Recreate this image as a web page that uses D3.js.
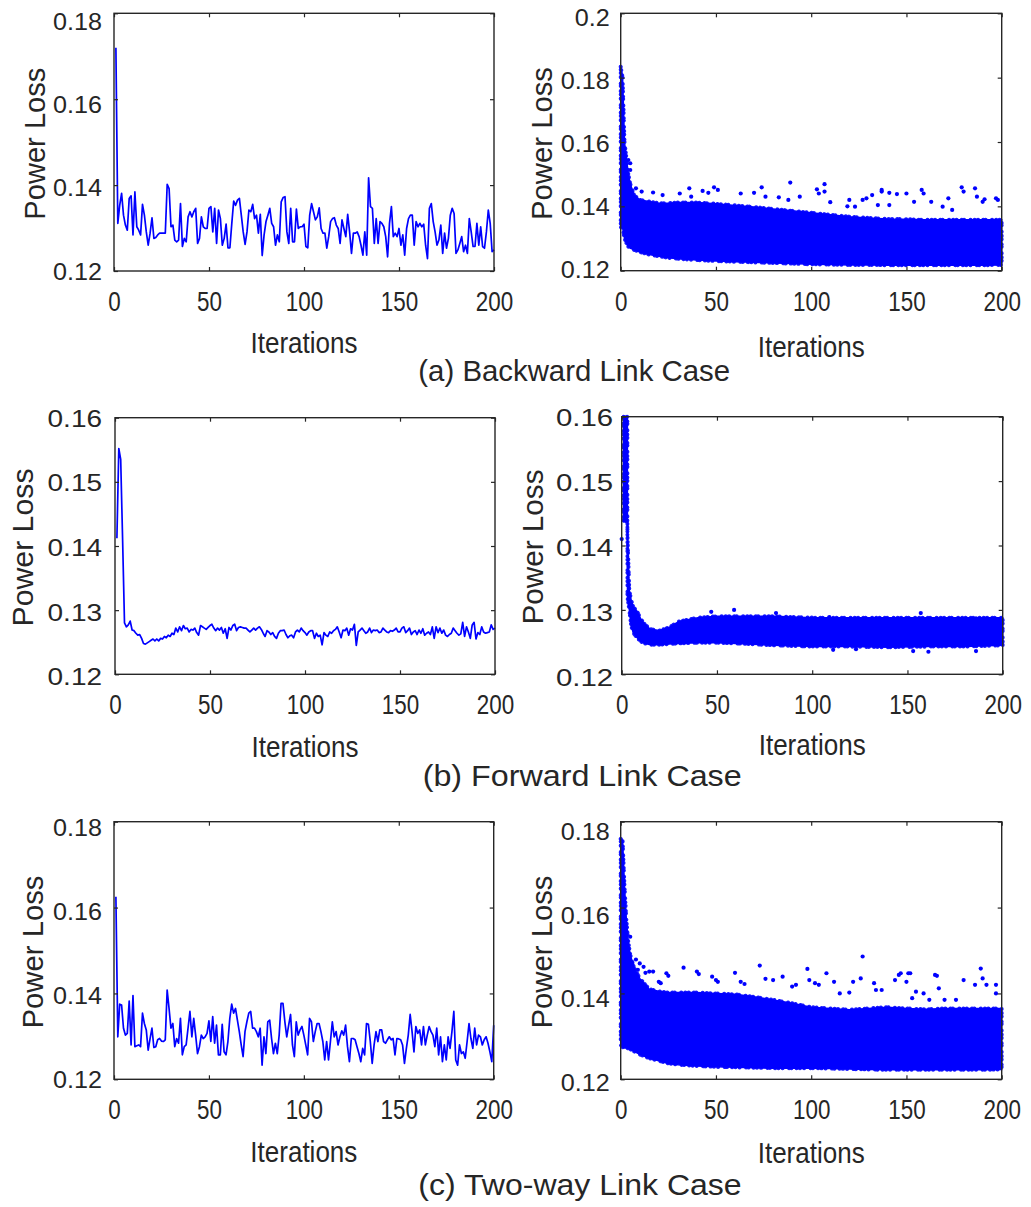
<!DOCTYPE html>
<html>
<head>
<meta charset="utf-8">
<script src="https://cdn.jsdelivr.net/npm/d3@7"></script>
<style>
  body { margin: 0; background: #fff; }
  svg { display: block; }
  text { font-family: "Liberation Sans", Arial, sans-serif; fill: #262626; }
</style>
</head>
<body>
<div id="chart"></div>
<script>
// ---- data ----
const iterations = d3.range(1, 201);
const xTicks = [0, 50, 100, 150, 200];
const yTicksA = [0.12, 0.14, 0.16, 0.18];
const yTicksAR = [0.12, 0.14, 0.16, 0.18, 0.2];
const yTicksB = [0.12, 0.13, 0.14, 0.15, 0.16];
const yTicksC = [0.12, 0.14, 0.16, 0.18];
const captions = ["(a) Backward Link Case", "(b) Forward Link Case", "(c) Two-way Link Case"];

// best power loss per iteration (left column)
const backwardLoss = [
  0.1720, 0.1311, 0.1353, 0.1381, 0.1330, 0.1307, 0.1295, 0.1369, 0.1375, 0.1284,
  0.1384, 0.1303, 0.1295, 0.1284, 0.1355, 0.1330, 0.1291, 0.1260, 0.1288, 0.1324,
  0.1276, 0.1278, 0.1284, 0.1288, 0.1288, 0.1288, 0.1288, 0.1402, 0.1392, 0.1303,
  0.1307, 0.1272, 0.1268, 0.1272, 0.1357, 0.1257, 0.1276, 0.1268, 0.1326, 0.1338,
  0.1326, 0.1338, 0.1346, 0.1264, 0.1276, 0.1326, 0.1303, 0.1299, 0.1299, 0.1346,
  0.1350, 0.1291, 0.1346, 0.1264, 0.1342, 0.1322, 0.1260, 0.1276, 0.1309, 0.1254,
  0.1254, 0.1311, 0.1363, 0.1353, 0.1365, 0.1369, 0.1330, 0.1291, 0.1262, 0.1291,
  0.1342, 0.1338, 0.1355, 0.1322, 0.1330, 0.1288, 0.1332, 0.1236, 0.1284, 0.1315,
  0.1330, 0.1346, 0.1311, 0.1303, 0.1260, 0.1284, 0.1268, 0.1361, 0.1371, 0.1373,
  0.1291, 0.1264, 0.1346, 0.1268, 0.1268, 0.1344, 0.1299, 0.1303, 0.1303, 0.1309,
  0.1257, 0.1254, 0.1330, 0.1357, 0.1338, 0.1319, 0.1326, 0.1347, 0.1299, 0.1288,
  0.1288, 0.1253, 0.1280, 0.1315, 0.1322, 0.1324, 0.1307, 0.1299, 0.1264, 0.1319,
  0.1299, 0.1280, 0.1332, 0.1291, 0.1241, 0.1288, 0.1288, 0.1291, 0.1280, 0.1260,
  0.1237, 0.1291, 0.1237, 0.1417, 0.1350, 0.1346, 0.1264, 0.1322, 0.1264, 0.1315,
  0.1311, 0.1303, 0.1280, 0.1233, 0.1311, 0.1350, 0.1280, 0.1288, 0.1280, 0.1299,
  0.1260, 0.1284, 0.1237, 0.1299, 0.1322, 0.1330, 0.1330, 0.1260, 0.1315, 0.1303,
  0.1311, 0.1303, 0.1309, 0.1260, 0.1229, 0.1346, 0.1357, 0.1315, 0.1291, 0.1260,
  0.1272, 0.1307, 0.1241, 0.1288, 0.1253, 0.1276, 0.1330, 0.1346, 0.1334, 0.1241,
  0.1249, 0.1264, 0.1280, 0.1245, 0.1260, 0.1241, 0.1322, 0.1291, 0.1257, 0.1257,
  0.1311, 0.1260, 0.1303, 0.1257, 0.1253, 0.1291, 0.1342, 0.1311, 0.1245, 0.1249
];
const forwardLoss = [
  0.1412, 0.1552, 0.1535, 0.1410, 0.1280, 0.1274, 0.1277, 0.1283, 0.1269, 0.1268,
  0.1264, 0.1261, 0.1262, 0.1256, 0.1248, 0.1247, 0.1249, 0.1251, 0.1253, 0.1255,
  0.1252, 0.1255, 0.1252, 0.1256, 0.1255, 0.1259, 0.1257, 0.1261, 0.1259, 0.1264,
  0.1262, 0.1272, 0.1266, 0.1274, 0.1268, 0.1276, 0.1271, 0.1272, 0.1266, 0.1270,
  0.1269, 0.1272, 0.1265, 0.1261, 0.1276, 0.1274, 0.1272, 0.1270, 0.1273, 0.1276,
  0.1278, 0.1272, 0.1268, 0.1272, 0.1269, 0.1273, 0.1264, 0.1271, 0.1256, 0.1273,
  0.1269, 0.1276, 0.1278, 0.1268, 0.1273, 0.1274, 0.1273, 0.1272, 0.1272, 0.1269,
  0.1266, 0.1269, 0.1272, 0.1269, 0.1272, 0.1274, 0.1270, 0.1264, 0.1259, 0.1268,
  0.1266, 0.1262, 0.1265, 0.1259, 0.1256, 0.1264, 0.1268, 0.1268, 0.1269, 0.1262,
  0.1257, 0.1260, 0.1261, 0.1257, 0.1266, 0.1269, 0.1266, 0.1272, 0.1268, 0.1265,
  0.1261, 0.1266, 0.1268, 0.1268, 0.1256, 0.1264, 0.1259, 0.1261, 0.1246, 0.1265,
  0.1261, 0.1259, 0.1266, 0.1264, 0.1268, 0.1270, 0.1274, 0.1266, 0.1257, 0.1269,
  0.1268, 0.1272, 0.1261, 0.1271, 0.1269, 0.1278, 0.1245, 0.1266, 0.1269, 0.1272,
  0.1268, 0.1264, 0.1266, 0.1272, 0.1265, 0.1269, 0.1268, 0.1269, 0.1265, 0.1266,
  0.1272, 0.1269, 0.1266, 0.1265, 0.1268, 0.1267, 0.1269, 0.1272, 0.1266, 0.1266,
  0.1272, 0.1274, 0.1265, 0.1268, 0.1272, 0.1262, 0.1266, 0.1268, 0.1262, 0.1269,
  0.1264, 0.1271, 0.1261, 0.1264, 0.1266, 0.1262, 0.1274, 0.1256, 0.1274, 0.1265,
  0.1272, 0.1264, 0.1269, 0.1261, 0.1259, 0.1262, 0.1264, 0.1272, 0.1268, 0.1264,
  0.1261, 0.1263, 0.1281, 0.1259, 0.1274, 0.1266, 0.1256, 0.1277, 0.1281, 0.1255,
  0.1265, 0.1262, 0.1274, 0.1266, 0.1264, 0.1265, 0.1266, 0.1277, 0.1270, 0.1272
];
const twoWayLoss = [
  0.1625, 0.1299, 0.1375, 0.1373, 0.1319, 0.1303, 0.1307, 0.1382, 0.1280, 0.1395,
  0.1276, 0.1278, 0.1280, 0.1276, 0.1354, 0.1330, 0.1315, 0.1268, 0.1295, 0.1319,
  0.1274, 0.1276, 0.1292, 0.1295, 0.1289, 0.1288, 0.1292, 0.1408, 0.1365, 0.1319,
  0.1330, 0.1276, 0.1295, 0.1284, 0.1342, 0.1257, 0.1276, 0.1280, 0.1319, 0.1358,
  0.1299, 0.1342, 0.1303, 0.1260, 0.1276, 0.1303, 0.1295, 0.1299, 0.1307, 0.1336,
  0.1288, 0.1346, 0.1284, 0.1326, 0.1257, 0.1257, 0.1328, 0.1264, 0.1257, 0.1288,
  0.1342, 0.1375, 0.1354, 0.1365, 0.1338, 0.1311, 0.1280, 0.1253, 0.1311, 0.1334,
  0.1354, 0.1358, 0.1319, 0.1319, 0.1311, 0.1299, 0.1319, 0.1233, 0.1299, 0.1260,
  0.1334, 0.1338, 0.1295, 0.1260, 0.1284, 0.1260, 0.1303, 0.1377, 0.1377, 0.1334,
  0.1299, 0.1326, 0.1351, 0.1280, 0.1253, 0.1334, 0.1303, 0.1315, 0.1323, 0.1303,
  0.1280, 0.1257, 0.1342, 0.1334, 0.1288, 0.1311, 0.1330, 0.1330, 0.1311, 0.1288,
  0.1245, 0.1288, 0.1245, 0.1288, 0.1334, 0.1299, 0.1311, 0.1280, 0.1299, 0.1313,
  0.1303, 0.1326, 0.1276, 0.1241, 0.1295, 0.1295, 0.1292, 0.1276, 0.1260, 0.1241,
  0.1272, 0.1257, 0.1330, 0.1328, 0.1288, 0.1237, 0.1280, 0.1311, 0.1288, 0.1315,
  0.1315, 0.1288, 0.1284, 0.1292, 0.1299, 0.1292, 0.1295, 0.1257, 0.1295, 0.1294,
  0.1292, 0.1280, 0.1237, 0.1272, 0.1303, 0.1351, 0.1311, 0.1264, 0.1323, 0.1307,
  0.1315, 0.1280, 0.1323, 0.1280, 0.1303, 0.1323, 0.1311, 0.1303, 0.1276, 0.1319,
  0.1257, 0.1299, 0.1241, 0.1280, 0.1245, 0.1299, 0.1272, 0.1311, 0.1358, 0.1245,
  0.1233, 0.1280, 0.1260, 0.1264, 0.1249, 0.1288, 0.1330, 0.1295, 0.1272, 0.1319,
  0.1280, 0.1303, 0.1299, 0.1280, 0.1292, 0.1299, 0.1284, 0.1264, 0.1241, 0.1326
];

// all-particle clouds (right column): dense band low/high edges, plus stray points
const backwardCloudIter = [0, 1, 2, 3, 4, 5, 7, 10, 15, 20, 25, 30, 40, 50, 60, 70, 80, 90, 100, 110, 120, 130, 140, 150, 160, 170, 180, 190, 200];
const backwardCloudLow  = [0.1335, 0.1333, 0.1300, 0.1286, 0.1275, 0.1270, 0.1265, 0.1258, 0.1250, 0.1245, 0.1240, 0.1237, 0.1233, 0.1230, 0.1228, 0.1226, 0.1224, 0.1222, 0.1220, 0.1219, 0.1218, 0.1218, 0.1217, 0.1217, 0.1217, 0.1217, 0.1217, 0.1217, 0.1218];
const backwardCloudHigh = [0.1834, 0.1800, 0.1600, 0.1550, 0.1500, 0.1470, 0.1435, 0.1420, 0.1415, 0.1410, 0.1410, 0.1412, 0.1412, 0.1408, 0.1403, 0.1398, 0.1392, 0.1386, 0.1380, 0.1374, 0.1368, 0.1364, 0.1361, 0.1360, 0.1358, 0.1358, 0.1358, 0.1358, 0.1358];
const backwardStray = [
  [4, 0.1544], [5, 0.1534], [5, 0.1513], [8, 0.1456], [11, 0.1446], [17, 0.1443], [22, 0.1435],
  [31, 0.1440], [36, 0.1456], [37, 0.1430], [43, 0.1448], [46, 0.1442], [49, 0.1459], [51, 0.1451],
  [63, 0.1440], [70, 0.1442], [74, 0.1459], [76, 0.1430], [83, 0.1428], [89, 0.1474], [88, 0.1420],
  [94, 0.1430], [103, 0.1453], [104, 0.1440], [107, 0.1469], [107, 0.1446], [110, 0.1413], [119, 0.1400],
  [120, 0.1420], [123, 0.1399], [127, 0.1420], [129, 0.1425], [132, 0.1435], [135, 0.1404], [137, 0.1451],
  [137, 0.1446], [141, 0.1442], [141, 0.1404], [145, 0.1438], [150, 0.1440], [154, 0.1414], [158, 0.1451],
  [159, 0.1440], [163, 0.1414], [169, 0.1399], [172, 0.1425], [174, 0.1389], [179, 0.1459], [180, 0.1446],
  [186, 0.1456], [187, 0.1430], [190, 0.1414], [191, 0.1422], [197, 0.1425], [198, 0.1420]
];

const forwardCloudIter = [1, 3, 3, 4, 5, 6, 8, 10, 12, 15, 20, 25, 30, 40, 50, 60, 80, 100, 120, 140, 160, 180, 200];
const forwardCloudLow  = [0.1437, 0.1437, 0.1320, 0.1300, 0.1275, 0.1265, 0.1257, 0.1251, 0.1248, 0.1246, 0.1246, 0.1247, 0.1248, 0.1249, 0.1249, 0.1248, 0.1245, 0.1243, 0.1243, 0.1242, 0.1243, 0.1243, 0.1245];
const forwardCloudHigh = [0.1600, 0.1600, 0.1420, 0.1330, 0.1315, 0.1305, 0.1298, 0.1286, 0.1278, 0.1270, 0.1268, 0.1273, 0.1282, 0.1288, 0.1290, 0.1290, 0.1290, 0.1288, 0.1288, 0.1288, 0.1288, 0.1288, 0.1288];
const forwardStray = [
  [0, 0.1410], [47, 0.1297], [59, 0.1300], [81, 0.1295], [109, 0.1289], [157, 0.1295], [186, 0.1287],
  [111, 0.1238], [123, 0.1239], [153, 0.1236], [161, 0.1235], [186, 0.1236]
];

const twoWayCloudIter = [0, 1, 2, 3, 4, 5, 7, 10, 15, 20, 25, 30, 40, 50, 60, 70, 80, 90, 100, 110, 120, 130, 140, 150, 160, 170, 180, 190, 200];
const twoWayCloudLow  = [0.1280, 0.1275, 0.1273, 0.1273, 0.1272, 0.1270, 0.1265, 0.1258, 0.1249, 0.1243, 0.1237, 0.1234, 0.1231, 0.1229, 0.1228, 0.1227, 0.1226, 0.1226, 0.1226, 0.1225, 0.1224, 0.1223, 0.1222, 0.1222, 0.1222, 0.1222, 0.1222, 0.1222, 0.1223];
const twoWayCloudHigh = [0.1760, 0.1757, 0.1650, 0.1570, 0.1520, 0.1490, 0.1460, 0.1435, 0.1410, 0.1405, 0.1402, 0.1402, 0.1402, 0.1400, 0.1398, 0.1392, 0.1385, 0.1377, 0.1368, 0.1365, 0.1362, 0.1365, 0.1368, 0.1365, 0.1363, 0.1365, 0.1365, 0.1365, 0.1365];
const twoWayStray = [
  [4, 0.1486], [5, 0.1478], [6, 0.1470], [8, 0.1479], [5, 0.1532], [9, 0.1455], [10, 0.1470], [12, 0.1462], [13, 0.1448],
  [15, 0.1451], [17, 0.1451], [20, 0.1427], [21, 0.1424], [24, 0.1447], [25, 0.1441], [33, 0.1460], [40, 0.1451],
  [41, 0.1445], [48, 0.1439], [50, 0.1431], [51, 0.1427], [60, 0.1448], [63, 0.1427], [65, 0.1422], [73, 0.1465],
  [76, 0.1434], [80, 0.1431], [85, 0.1439], [90, 0.1416], [92, 0.1420], [98, 0.1457], [99, 0.1431], [102, 0.1424],
  [104, 0.1420], [108, 0.1447], [112, 0.1427], [115, 0.1400], [120, 0.1402], [122, 0.1427], [127, 0.1486], [126, 0.1435],
  [133, 0.1424], [134, 0.1408], [137, 0.1408], [144, 0.1431], [146, 0.1443], [147, 0.1447], [151, 0.1447], [152, 0.1447],
  [150, 0.1427], [153, 0.1389], [155, 0.1404], [159, 0.1400], [162, 0.1385], [165, 0.1443], [166, 0.1441], [167, 0.1412],
  [170, 0.1385], [176, 0.1385], [180, 0.1431], [186, 0.1420], [189, 0.1458], [190, 0.1435], [192, 0.1420], [197, 0.1420],
  [197, 0.1400]
];

// ---- layout ----
const W = 1031, H = 1207;
const blue = "#0000ff";
const ink = "#262626";

const panels = [
  { kind: "line", series: backwardLoss, yDomain: [0.12, 0.18], yTicks: yTicksA,
    box: [114, 13.3, 494, 271], tickStretch: 1.07, drift: [0.5, 8], tickPad: 12, yLabelGap: 69, yLabelLen: 152, xLabelGap: 82.5 },
  { kind: "cloud", cloud: [backwardCloudIter, backwardCloudLow, backwardCloudHigh], stray: backwardStray,
    yDomain: [0.12, 0.2], yTicks: yTicksAR,
    box: [620.7, 13.3, 1001.7, 270.7], tickStretch: 1.07, drift: [-0.5, 5.5], tickPad: 11, yLabelGap: 69, yLabelLen: 153, xLabelGap: 86 },
  { kind: "line", series: forwardLoss, yDomain: [0.12, 0.16], yTicks: yTicksB,
    box: [115, 417.7, 495, 674.3], tickStretch: 1.19, drift: [3, -2], tickPad: 13, yLabelGap: 81.7, yLabelLen: 158, xLabelGap: 82.4 },
  { kind: "cloud", cloud: [forwardCloudIter, forwardCloudLow, forwardCloudHigh], stray: forwardStray,
    yDomain: [0.12, 0.16], yTicks: yTicksB,
    box: [621.7, 416.7, 1002.7, 674.3], tickStretch: 1.25, drift: [4, -2.4], tickPad: 8.5, yLabelGap: 78.4, yLabelLen: 155, xLabelGap: 80.7 },
  { kind: "line", series: twoWayLoss, yDomain: [0.12, 0.18], yTicks: yTicksC,
    box: [114, 821.7, 493.7, 1079.3], tickStretch: 1.07, drift: [0.7, 6], tickPad: 12, yLabelGap: 70.7, yLabelLen: 153, xLabelGap: 82.4 },
  { kind: "cloud", cloud: [twoWayCloudIter, twoWayCloudLow, twoWayCloudHigh], stray: twoWayStray,
    yDomain: [0.12, 0.18], yTicks: yTicksC,
    box: [620.7, 821.7, 1001.7, 1079.3], tickStretch: 1.07, drift: [4, 6], tickPad: 11, yLabelGap: 69, yLabelLen: 153, xLabelGap: 84 }
];

const captionLayout = [
  { cx: 574.2, base: 381, len: 311.7 },
  { cx: 582.2, base: 785.5, len: 319 },
  { cx: 580, base: 1195, len: 323.4 }
];

const svg = d3.select("#chart")
  .append("svg")
  .attr("width", W)
  .attr("height", H);

// stretch or squeeze rendered text to match the figure's glyph widths
function fitText(sel, factor) {
  sel.each(function () {
    const w = this.getComputedTextLength();
    this.setAttribute("textLength", w * factor);
    this.setAttribute("lengthAdjust", "spacingAndGlyphs");
  });
}

const fmt = d => String(+d.toFixed(2));

panels.forEach(p => {
  const [x0, y0, x1, y1] = p.box;
  const w = x1 - x0, h = y1 - y0;
  const g = svg.append("g").attr("transform", `translate(${x0},${y0})`);

  const x = d3.scaleLinear().domain([0, 200]).range([0, w]);
  const y = d3.scaleLinear().domain(p.yDomain).range([h, 0]);

  // data
  if (p.kind === "line") {
    const line = d3.line()
      .x((d, i) => x(iterations[i]))
      .y(d => y(d));
    g.append("path")
      .datum(p.series)
      .attr("d", line)
      .attr("fill", "none")
      .attr("stroke", blue)
      .attr("stroke-width", 1.7)
      .attr("stroke-linejoin", "round");
  } else {
    const [it, lo, hi] = p.cloud;
    const band = d3.zip(it, lo, hi);
    const area = d3.area()
      .x(d => x(d[0]))
      .y0(d => y(d[1]))
      .y1(d => y(d[2]));
    // solid core of the point cloud
    g.append("path")
      .datum(band)
      .attr("d", area)
      .attr("fill", blue)
      .attr("stroke", blue)
      .attr("stroke-width", 1.5);
    // speckled rim, so the edge reads as loose markers rather than a clean outline
    g.append("path")
      .datum(band)
      .attr("d", area)
      .attr("fill", "none")
      .attr("stroke", blue)
      .attr("stroke-width", 4)
      .attr("stroke-linecap", "round")
      .attr("stroke-dasharray", "0.1 3.3 0.1 5.1 0.1 2.2 0.1 6.4 0.1 4.0")
      .attr("opacity", 0.9);
    g.selectAll(".stray")
      .data(p.stray)
      .join("circle")
      .attr("class", "stray")
      .attr("cx", d => x(d[0]))
      .attr("cy", d => y(d[1]))
      .attr("r", 2.1)
      .attr("fill", blue);
  }

  // axes: ticks point inward on all four sides
  const bottom = g.append("g")
    .attr("transform", `translate(0,${h})`)
    .call(d3.axisBottom(x).tickValues(xTicks).tickSizeInner(-4).tickSizeOuter(0).tickPadding(21));
  const left = g.append("g")
    .call(d3.axisLeft(y).tickValues(p.yTicks).tickFormat(fmt).tickSizeInner(-4).tickSizeOuter(0).tickPadding(p.tickPad));
  g.append("g")
    .call(d3.axisTop(x).tickValues(xTicks).tickSizeInner(-4).tickSizeOuter(0).tickFormat(""));
  g.append("g")
    .attr("transform", `translate(${w},0)`)
    .call(d3.axisRight(y).tickValues(p.yTicks).tickSizeInner(-4).tickSizeOuter(0).tickFormat(""));

  g.selectAll(".domain").remove();
  g.selectAll(".tick line").attr("stroke", ink).attr("stroke-width", 1.2);

  bottom.selectAll("text")
    .attr("fill", ink)
    .style("font-size", "27px")
    .call(fitText, 0.83);

  left.selectAll("text")
    .attr("fill", ink)
    .style("font-size", "23.5px")
    .attr("y", d => p.drift[0] + p.drift[1] * (h - y(d)) / h)
    .call(fitText, p.tickStretch);

  g.append("rect")
    .attr("width", w)
    .attr("height", h)
    .attr("fill", "none")
    .attr("stroke", ink)
    .attr("stroke-width", 1.4);

  // axis titles
  g.append("text")
    .attr("x", w / 2)
    .attr("y", h + p.xLabelGap)
    .attr("text-anchor", "middle")
    .style("font-size", "30px")
    .attr("textLength", 107)
    .attr("lengthAdjust", "spacingAndGlyphs")
    .text("Iterations");

  g.append("text")
    .attr("transform", `translate(${-p.yLabelGap},${h / 2 + 1.5}) rotate(-90)`)
    .attr("text-anchor", "middle")
    .style("font-size", "29px")
    .attr("textLength", p.yLabelLen)
    .attr("lengthAdjust", "spacingAndGlyphs")
    .text("Power Loss");
});

// sub-figure captions
svg.selectAll(".caption")
  .data(captions)
  .join("text")
  .attr("class", "caption")
  .attr("x", (d, i) => captionLayout[i].cx)
  .attr("y", (d, i) => captionLayout[i].base)
  .attr("text-anchor", "middle")
  .style("font-size", "29px")
  .attr("textLength", (d, i) => captionLayout[i].len)
  .attr("lengthAdjust", "spacingAndGlyphs")
  .text(d => d);
</script>
</body>
</html>
